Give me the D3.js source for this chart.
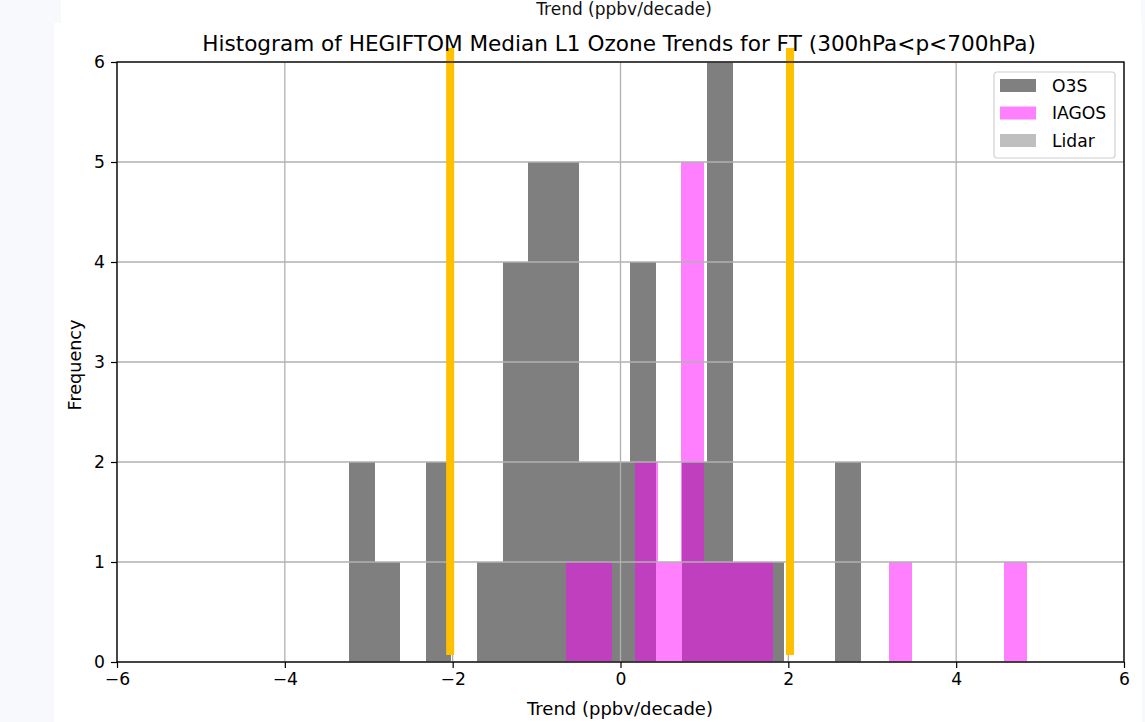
<!DOCTYPE html>
<html>
<head>
<meta charset="utf-8">
<script src="https://cdn.jsdelivr.net/npm/d3@7"></script>
<style>
  body { margin: 0; background: #f7f9fd; }
  svg { display: block; font-family: "DejaVu Sans", sans-serif; }
</style>
</head>
<body>
<svg id="svg"></svg>
<script>
const WIDTH = 1145, HEIGHT = 722;

// histogram counts (20 bins each)
const o3sCounts   = [2,1,0,2,0,1,4,5,5,2,2,4,0,2,6,1,1,0,0,2];
const o3sRange    = [-3.236, 2.864];
const iagosCounts = [1,1,0,2,1,5,1,1,1,0,0,0,0,0,1,0,0,0,0,1];
const iagosRange  = [-0.650, 4.845];
const lidarCounts = [];
const lidarRange  = [0, 0];
const limitLines  = [-2.03, 2.02];
const limitSpan   = [0.07, 6.14];
const xTicks = [-6,-4,-2,0,2,4,6];
const yTicks = [0,1,2,3,4,5,6];
const series = ['O3S','IAGOS','Lidar'];

const svg = d3.select('#svg').attr('width',WIDTH).attr('height',HEIGHT);

// white figure areas over the page background
svg.append('rect').attr('x',61).attr('y',0).attr('width',1080).attr('height',24).attr('fill','#fff');
svg.append('rect').attr('x',54).attr('y',23).attr('width',1088).attr('height',HEIGHT-23).attr('fill','#fff');
svg.append('text').attr('x',624).attr('y',15).attr('text-anchor','middle')
   .attr('font-size',17).attr('fill','#111').text('Trend (ppbv/decade)');

const pLeft = 117, pRight = 1124, pTop = 62, pBottom = 662;
const x = d3.scaleLinear().domain([-6,6]).range([pLeft,pRight]);
const y = d3.scaleLinear().domain([0,6]).range([pBottom,pTop]);

function bins(counts, range){
    let w = (range[1]-range[0]) / counts.length;
    return counts.map((c,i) => ({x0: range[0]+i*w, x1: range[0]+(i+1)*w, n: c}));
}

const plot = svg.append('g').attr('shape-rendering','crispEdges');
function drawHist(counts, range, color, op){
    plot.append('g').selectAll('rect').data(bins(counts,range).filter(d => d.n>0)).join('rect')
        .attr('x', d => x(d.x0)).attr('width', d => x(d.x1)-x(d.x0))
        .attr('y', d => y(d.n)).attr('height', d => y(0)-y(d.n))
        .attr('fill', color).attr('fill-opacity', op);
}
drawHist(o3sCounts, o3sRange, '#000', 0.5);
drawHist(iagosCounts, iagosRange, '#ff00ff', 0.5);
drawHist(lidarCounts, lidarRange, '#808080', 0.5);

// grid on top of the bars
const grid = svg.append('g').attr('stroke','#b0b0b0').attr('stroke-width',1.3);
grid.selectAll('.gx').data(xTicks).join('line').attr('class','gx')
    .attr('x1', d => x(d)).attr('x2', d => x(d)).attr('y1',pTop).attr('y2',pBottom);
grid.selectAll('.gy').data(yTicks).join('line').attr('class','gy')
    .attr('y1', d => y(d)).attr('y2', d => y(d)).attr('x1',pLeft).attr('x2',pRight);

// yellow limits
svg.append('g').selectAll('line').data(limitLines).join('line')
   .attr('x1', d => x(d)).attr('x2', d => x(d))
   .attr('y1', y(limitSpan[0])).attr('y2', y(limitSpan[1]))
   .attr('stroke','#ffc000').attr('stroke-width',8);

// axes
const xAxis = svg.append('g').attr('transform','translate(0,'+pBottom+')')
    .call(d3.axisBottom(x).tickValues(xTicks).tickSizeInner(6).tickSizeOuter(0).tickPadding(5).tickFormat(d3.format('d')));
const yAxis = svg.append('g').attr('transform','translate('+pLeft+',0)')
    .call(d3.axisLeft(y).tickValues(yTicks).tickSizeInner(6).tickSizeOuter(0).tickPadding(6).tickFormat(d3.format('d')));
[xAxis,yAxis].forEach(a => {
    a.select('.domain').remove();
    a.selectAll('line').attr('stroke','#000').attr('stroke-width',1.2);
    a.selectAll('text').attr('font-size',17.2).attr('fill','#000').attr('font-family','DejaVu Sans');
});
svg.append('rect').attr('x',pLeft).attr('y',pTop).attr('width',pRight-pLeft).attr('height',pBottom-pTop)
   .attr('fill','none').attr('stroke','#000').attr('stroke-width',1.3);

svg.append('text').attr('x',619).attr('y',51).attr('text-anchor','middle')
   .attr('font-size',21.6).attr('fill','#000')
   .text('Histogram of HEGIFTOM Median L1 Ozone Trends for FT (300hPa<p<700hPa)');
svg.append('text').attr('x',620).attr('y',715).attr('text-anchor','middle')
   .attr('font-size',18).attr('fill','#000').text('Trend (ppbv/decade)');
svg.append('text').attr('transform','translate(81,'+((pTop+pBottom)/2 + 3)+') rotate(-90)').attr('text-anchor','middle')
   .attr('font-size',17.6).attr('fill','#000').text('Frequency');

// legend
const legColors = ['#808080','#ff80ff','#bfbfbf'];
const leg = svg.append('g').attr('transform','translate(994,72)');
leg.append('rect').attr('width',121).attr('height',86).attr('rx',3)
   .attr('fill','#fff').attr('fill-opacity',0.8).attr('stroke','#d0d0d0').attr('stroke-width',1.2);
const items = leg.selectAll('g').data(series).join('g')
   .attr('transform', (d,i) => 'translate(6,'+(7+i*27.5)+')');
items.append('rect').attr('width',36).attr('height',13).attr('fill', (d,i) => legColors[i]);
items.append('text').attr('x',52).attr('y',12.5).attr('font-size',17.2).attr('fill','#000').text(d => d);
</script>
</body>
</html>
